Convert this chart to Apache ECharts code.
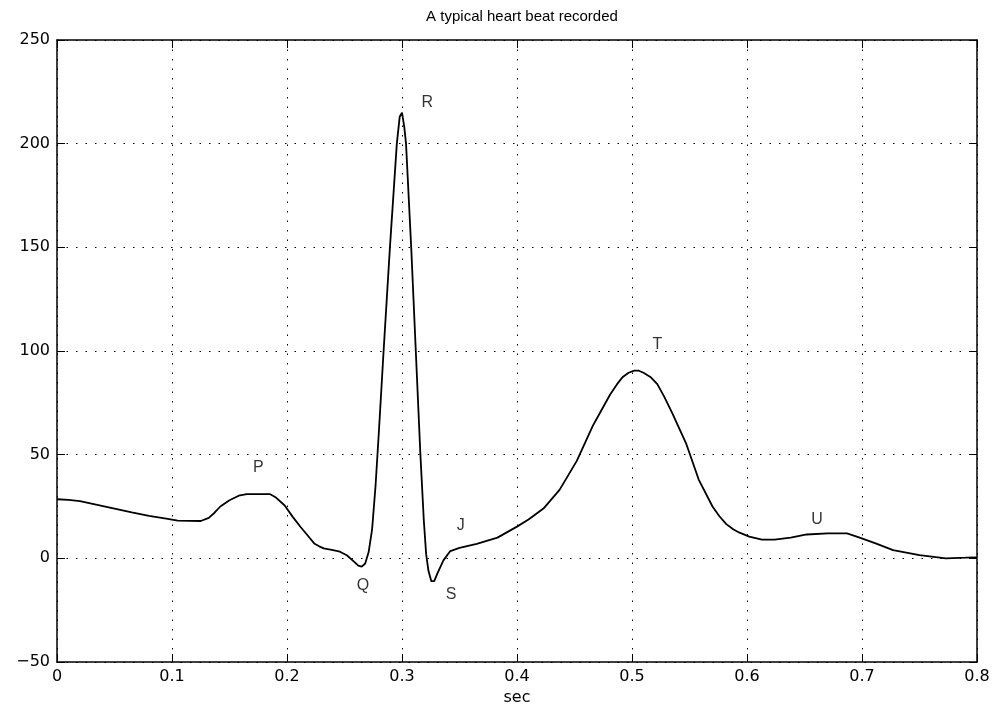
<!DOCTYPE html>
<html>
<head>
<meta charset="utf-8">
<script src="https://cdn.jsdelivr.net/npm/echarts@6/dist/echarts.min.js"></script>
<style>
html,body{margin:0;padding:0;background:#fff;}
#chart{width:1001px;height:704px;}
</style>
</head>
<body>
<div id="chart"></div>
<script>
const times = [0.000,0.010,0.020,0.035,0.050,0.065,0.080,0.095,0.105,0.125,0.132,0.137,0.142,0.150,0.158,0.165,0.185,0.190,0.198,0.205,0.212,0.218,0.224,0.228,0.232,0.240,0.246,0.252,0.258,0.262,0.265,0.268,0.271,0.274,0.277,0.280,0.284,0.2895,0.2955,0.298,0.300,0.302,0.3035,0.308,0.312,0.316,0.319,0.321,0.323,0.3255,0.328,0.331,0.336,0.342,0.350,0.365,0.383,0.400,0.410,0.423,0.437,0.452,0.466,0.474,0.481,0.487,0.492,0.497,0.502,0.506,0.510,0.516,0.522,0.528,0.535,0.547,0.558,0.570,0.576,0.582,0.588,0.593,0.602,0.613,0.624,0.638,0.652,0.670,0.687,0.698,0.713,0.727,0.750,0.773,0.790,0.800];
const values = [28.5,28.2,27.6,25.8,24.0,22.2,20.5,19.2,18.2,18.0,19.5,22,25,28,30.2,31,31,29.5,25.5,20,15,11,7,5.8,4.8,4.0,3.2,1.5,-1.5,-3.5,-4,-2.5,3,14,35,62,100,150,200,213,215,208,200,150,100,50,18,2,-6,-11,-11,-7,-1,3.5,5,7,10,15.3,18.7,24,33,47,64,72,79,84,87.5,89.5,90.5,90.5,89.5,87.5,84,78,70,55.5,38,25,20.3,16.5,14,12.5,10.5,9,9,10,11.5,12,12,10,7,4,1.5,0,0.3,0.5];
const waveNames = ['P','R','Q','S','J','T','U'];
const waveTimes = [0.175,0.322,0.266,0.3426,0.351,0.522,0.661];
const waveValues = [43.6,220,-13.3,-17.7,15.6,102.9,18.5];
const xTicks = [0,0.1,0.2,0.3,0.4,0.5,0.6,0.7,0.8];
const yTicks = [-50,0,50,100,150,200,250];

const chart = echarts.init(document.getElementById('chart'));
const FONT = 'DejaVu Sans';
const HELV = 'Liberation Sans';
const gridDots = {show:true, lineStyle:{color:'#000', width:1, type:[1.5,8]}};
const tick = {show:true, inside:true, length:8, lineStyle:{color:'#000', width:1}};
const line = {show:true, onZero:false, lineStyle:{color:'#000', width:1.5}};

chart.setOption({
  animation:false,
  backgroundColor:'#fff',
  title:{text:'A typical heart beat recorded', left:517, textAlign:'center', top:4,
    textStyle:{fontFamily:HELV, fontSize:15, fontWeight:'normal', color:'#000'}},
  grid:{left:57, right:24, top:40, bottom:42, outerBoundsMode:'none', containLabel:false},
  xAxis:[
    {type:'value', min:xTicks[0], max:xTicks[xTicks.length-1], interval:0.1, position:'bottom',
     name:'sec', nameLocation:'middle', nameGap:25,
     nameTextStyle:{fontFamily:FONT, fontSize:16, color:'#000'},
     axisLine:line, axisTick:tick, splitLine:gridDots,
     axisLabel:{fontFamily:FONT, fontSize:16, color:'#000', margin:7,
       formatter:v=>String(+v.toFixed(1))}},
    {type:'value', min:xTicks[0], max:xTicks[xTicks.length-1], interval:0.1, position:'top',
     axisLine:line, axisTick:tick, splitLine:{show:false}, axisLabel:{show:false}}
  ],
  yAxis:[
    {type:'value', min:yTicks[0], max:yTicks[yTicks.length-1], interval:50, position:'left',
     axisLine:line, axisTick:tick, splitLine:gridDots,
     axisLabel:{fontFamily:FONT, fontSize:16, color:'#000', margin:7,
       formatter:v=>String(v).replace('-','\u2212')}},
    {type:'value', min:yTicks[0], max:yTicks[yTicks.length-1], interval:50, position:'right',
     axisLine:line, axisTick:tick, splitLine:{show:false}, axisLabel:{show:false}}
  ],
  series:[
    {type:'line', data:times.map((t,i)=>[t,values[i]]), showSymbol:false, symbol:'none',
     smooth:false,
     lineStyle:{color:'#000', width:1.8}, xAxisIndex:0, yAxisIndex:0},
    {type:'scatter', symbolSize:0, data:waveNames.map((n,i)=>({name:n, value:[waveTimes[i],waveValues[i]]})),
     label:{show:true, position:'inside', formatter:p=>p.name, fontFamily:HELV, fontSize:16, color:'#000'},
     xAxisIndex:0, yAxisIndex:0}
  ]
});
</script>
</body>
</html>
